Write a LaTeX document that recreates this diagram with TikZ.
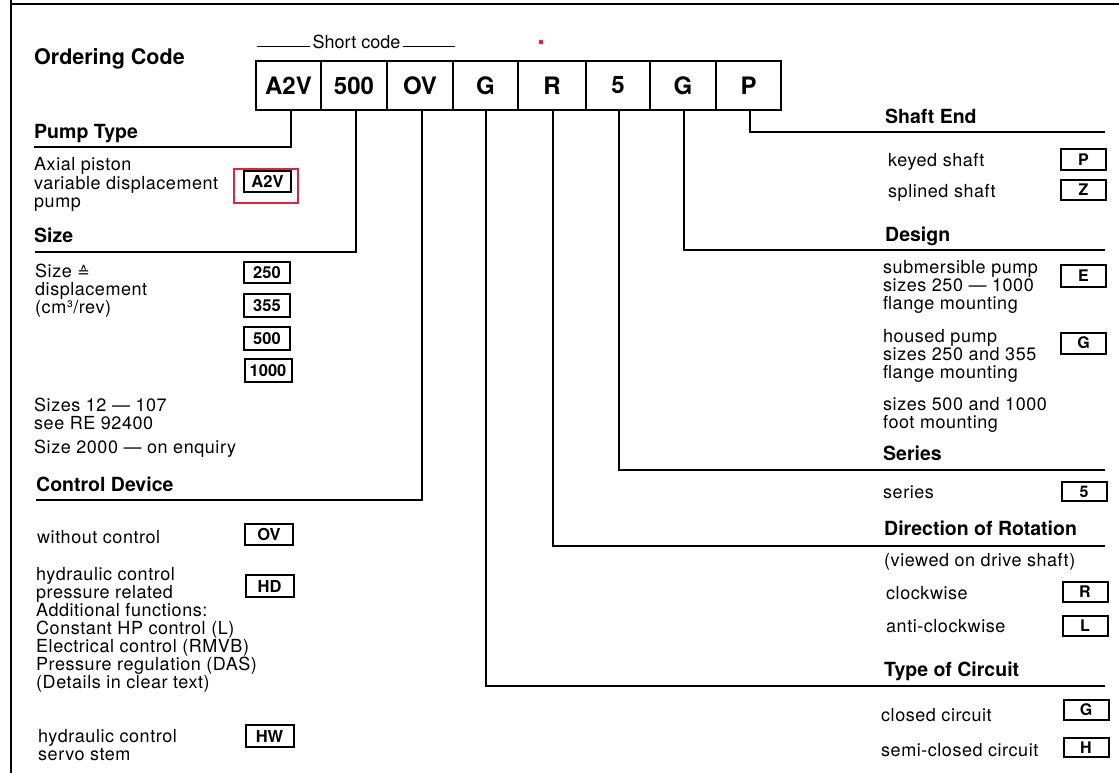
\documentclass[tikz,border=0pt]{standalone}
\usepackage{fontspec}
\setmainfont{TeX Gyre Heros}
\newfontfamily\djv{DejaVu Sans}
\begin{document}
\begin{tikzpicture}[x=1pt,y=-1pt,
  body/.style={anchor=base west, inner sep=0pt, font=\addfontfeature{LetterSpace=3}\fontsize{18}{18}\selectfont},
  head/.style={anchor=base west, inner sep=0pt, font=\bfseries\fontsize{19.5}{20}\selectfont},
  codebox/.style={draw, line width=1.7pt, minimum height=49pt, inner sep=0pt, font=\bfseries\fontsize{24}{24}\selectfont},
  sbox/.style={draw, line width=2pt, minimum width=46pt, minimum height=21pt, inner sep=0pt, font=\bfseries\fontsize{16.5}{16.5}\selectfont},
  rbox/.style={sbox, minimum width=45pt, minimum height=20pt, font=\bfseries\fontsize{16}{16}\selectfont},
  conn/.style={line width=1.4pt},
  frame/.style={line width=1.8pt}
]
\definecolor{hlred}{RGB}{232,33,58}
\useasboundingbox (0,0) rectangle (1119,773);
% frame
\coordinate (fTL) at (11,4);
\coordinate (fTR) at (1119,4);
\coordinate (fBL) at (11,773);
\coordinate (fT0) at (11,0);
\draw[frame] (fT0) -- (fBL);
\draw[frame] (fTL) -- (fTR);

% title
\node[anchor=base west, inner sep=0pt, font=\bfseries\fontsize{21.5}{22}\selectfont] (oc) at (34,65) {Ordering Code};

% short code
\node[anchor=base, inner sep=3pt, font=\fontsize{18}{18}\selectfont] (sc) at (356.5,49) {Short code};
\coordinate (scL) at (257,46.5);
\coordinate (scR) at (455,46.5);
\draw[line width=1.2pt] (scL) -- (sc.west |- scL);
\draw[line width=1.2pt] (sc.east |- scR) -- (scR);

% red dot
\fill[hlred] (541,42) circle (2.4pt);

% code boxes
\node[codebox, minimum width=65pt] (c1) at (288.5,85.5) {A2V};
\node[codebox, minimum width=66pt] (c2) at (354,85.5) {500};
\node[codebox, minimum width=66pt] (c3) at (420,85.5) {OV};
\node[codebox, minimum width=65pt] (c4) at (485.5,85.5) {G};
\node[codebox, minimum width=68pt] (c5) at (552,85.5) {R};
\node[codebox, minimum width=64pt] (c6) at (618,85.5) {5};
\node[codebox, minimum width=66pt] (c7) at (683,85.5) {G};
\node[codebox, minimum width=65pt] (c8) at (748.5,85.5) {P};

% connector end points
\coordinate (ptL) at (34,147);
\coordinate (szL) at (35,252);
\coordinate (cdL) at (36,500);
\coordinate (seR) at (1105,132);
\coordinate (deR) at (1105,250);
\coordinate (srR) at (1105,470);
\coordinate (drR) at (1105,546);
\coordinate (tcR) at (1105,686);

\draw[conn] ([xshift=2.5pt]c1.south) |- (ptL);
\draw[conn] ([xshift=2pt]c2.south) |- (szL);
\draw[conn] ([xshift=2pt]c3.south) |- (cdL);
\draw[conn] ([xshift=0.5pt]c4.south) |- (tcR);
\draw[conn] ([xshift=1pt]c5.south) |- (drR);
\draw[conn] ([xshift=1pt]c6.south) |- (srR);
\draw[conn] ([xshift=1pt]c7.south) |- (deR);
\draw[conn] ([xshift=1.5pt]c8.south) |- (seR);

% ---------- left column ----------
\node[head] (hpt) at (34,139) {Pump Type};
\node[body] (t1) at (34,171) {Axial piston};
\node[body] (t2) at (34,189) {variable displacement};
\node[body] (t3) at (34,207) {pump};
\node[sbox, minimum width=47pt] (b1) at (267.5,181.5) {A2V};
\node[draw=hlred, line width=1.6pt, minimum width=64pt, minimum height=34pt, inner sep=0pt] (hl) at (266,186) {};

\node[head] (hsz) at (34,242) {Size};
\node[body] (t4) at (35,277) {Size {\djv\fontsize{15}{15}\selectfont ≙}};
\node[body] (t5) at (35,295) {displacement};
\node[body] (t6) at (35,313) {(cm³/rev)};
\node[sbox] (b2) at (267,272.5) {250};
\node[sbox, minimum height=23pt] (b3) at (267,305.5) {355};
\node[sbox, minimum height=23pt] (b4) at (267,338.5) {500};
\node[sbox, minimum width=47pt, minimum height=23pt] (b5) at (268,370.5) {1000};
\node[body] (t7) at (34,411) {Sizes 12 — 107};
\node[body] (t8) at (34,429) {see RE 92400};
\node[body] (t9) at (34,453) {Size 2000 — on enquiry};

\node[head] (hcd) at (36,491) {Control Device};
\node[body] (t10) at (37,543) {without control};
\node[sbox, minimum width=48pt] (b6) at (269,534) {OV};
\node[body] (t11) at (36,580) {hydraulic control};
\node[body] (t12) at (36,598) {pressure related};
\node[body] (t13) at (36,616) {Additional functions:};
\node[body] (t14) at (36,634) {Constant HP control (L)};
\node[body] (t15) at (36,652) {Electrical control (RMVB)};
\node[body] (t16) at (36,670) {Pressure regulation (DAS)};
\node[body] (t17) at (36,688) {(Details in clear text)};
\node[sbox, minimum width=48pt, minimum height=22pt] (b7) at (269.5,586) {HD};
\node[body] (t18) at (38,742) {hydraulic control};
\node[body] (t19) at (38,760) {servo stem};
\node[sbox, minimum width=48pt, minimum height=22pt] (b8) at (269.5,736) {HW};

% ---------- right column ----------
\node[head] (hse) at (885,124) {Shaft End};
\node[body] (r1) at (888,166) {keyed shaft};
\node[rbox, minimum height=21pt] (rb1) at (1083.5,159.5) {P};
\node[body] (r2) at (888,197) {splined shaft};
\node[rbox] (rb2) at (1083.5,190) {Z};

\node[head] (hde) at (885,241) {Design};
\node[body] (r3) at (883,273) {submersible pump};
\node[body] (r4) at (883,291) {sizes 250 — 1000};
\node[body] (r5) at (883,309) {flange mounting};
\node[rbox, minimum height=22pt] (rb3) at (1083.5,275.5) {E};
\node[body] (r6) at (883,342) {housed pump};
\node[body] (r7) at (883,360) {sizes 250 and 355};
\node[body] (r8) at (883,378) {flange mounting};
\node[rbox, minimum height=21pt] (rb4) at (1083.5,343) {G};
\node[body] (r9) at (883,410) {sizes 500 and 1000};
\node[body] (r10) at (883,428) {foot mounting};

\node[head] (hsr) at (883,460) {Series};
\node[body] (r11) at (883,498) {series};
\node[rbox, minimum height=19pt] (rb5) at (1084,491.5) {5};

\node[head] (hdr) at (884,535) {Direction of Rotation};
\node[body] (r12) at (884,566) {(viewed on drive shaft)};
\node[body] (r13) at (886,599) {clockwise};
\node[rbox] (rb6) at (1085,592) {R};
\node[body] (r14) at (886,632) {anti-clockwise};
\node[rbox] (rb7) at (1085,626) {L};

\node[head] (htc) at (884,676) {Type of Circuit};
\node[body] (r15) at (881,721) {closed circuit};
\node[rbox] (rb8) at (1086,710) {G};
\node[body] (r16) at (881,756) {semi-closed circuit};
\node[rbox, minimum height=19pt] (rb9) at (1086,747.5) {H};
\end{tikzpicture}
\end{document}
